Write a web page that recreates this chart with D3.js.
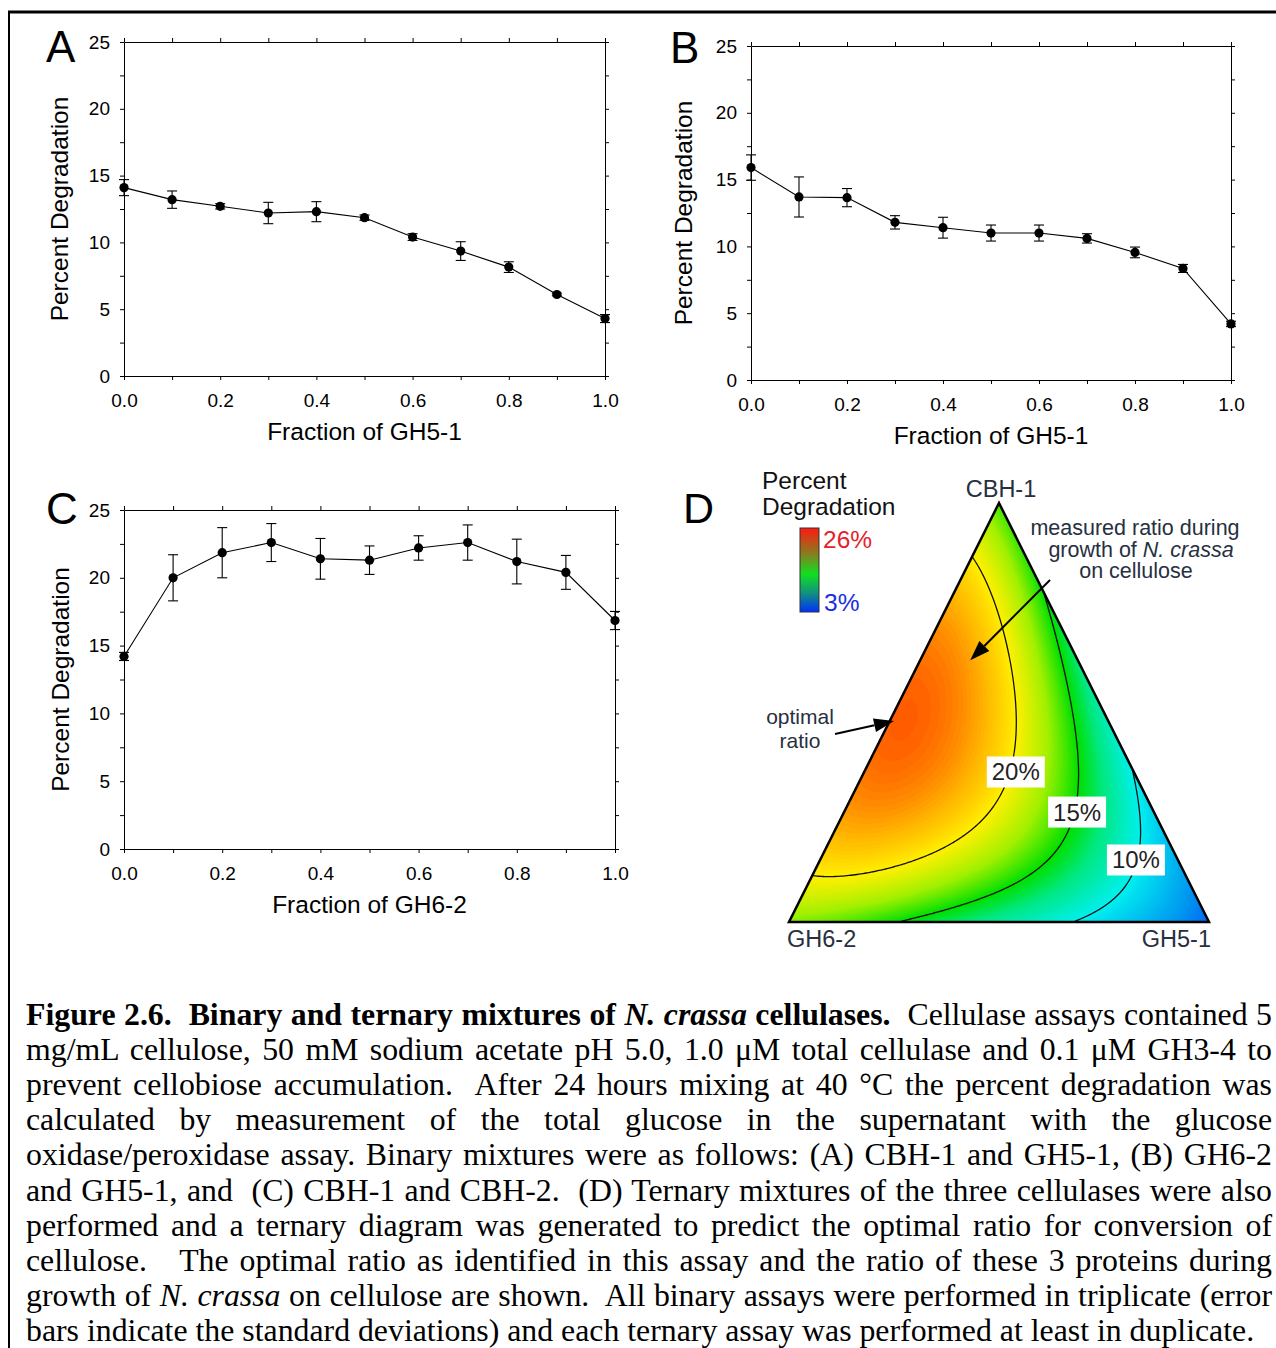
<!DOCTYPE html>
<html><head><meta charset="utf-8">
<script src="https://cdn.jsdelivr.net/npm/d3@7"></script>
<style>
body{margin:0;background:#fff;}
svg{position:absolute;left:0;top:0;}
#cap{position:absolute;left:26px;top:996.5px;width:1246px;font-family:"Liberation Serif","Times New Roman",serif;font-size:31.8px;line-height:35.2px;color:#000;}
#cap div{white-space:nowrap;text-align:left;}
#cap div.just{text-align:justify;text-align-last:justify;}
</style></head><body>
<svg id="fig" width="1276" height="1348"></svg>
<div id="cap"></div>
<script>
// ---------- data ----------
const fractions = [0.0,0.1,0.2,0.3,0.4,0.5,0.6,0.7,0.8,0.9,1.0];
const degA = [14.1,13.2,12.7,12.2,12.3,11.85,10.4,9.35,8.15,6.1,4.3];
const errA = [0.6,0.65,0.2,0.8,0.75,0.2,0.25,0.7,0.4,0.1,0.3];
const degB = [15.9,13.7,13.65,11.8,11.4,11.0,11.0,10.6,9.55,8.35,4.2];
const errB = [0.95,1.5,0.68,0.5,0.78,0.6,0.6,0.35,0.4,0.3,0.2];
const degC = [14.2,20.0,21.85,22.6,21.4,21.3,22.2,22.6,21.2,20.4,16.85];
const errC = [0.3,1.7,1.85,1.4,1.5,1.05,0.9,1.3,1.65,1.25,0.67];
const xTicks = [0,0.1,0.2,0.3,0.4,0.5,0.6,0.7,0.8,0.9,1.0];
const yTicks = [0,2.5,5,7.5,10,12.5,15,17.5,20,22.5,25];
// ternary surface: [CBH-1, GH6-2, GH5-1, percent degradation]
const ternCBH1 = [1,0,0,0.75,0.5,0.25,0.75,0.5,0.25,0,0,0,0.5,0.25,0.25];
const ternGH62 = [0,1,0,0.25,0.5,0.75,0,0,0,0.75,0.5,0.25,0.25,0.5,0.25];
const ternGH51 = [0,0,1,0,0,0,0.25,0.5,0.75,0.25,0.5,0.75,0.25,0.25,0.5];
const ternDeg  = [16.0,17.0,4.5,22.5,24.4,22.6,14.6,11.6,8.6,15.1,12.2,9.0,21.2,21.5,16.4];
const contourLevels = [10,15,20];
const contourLabels = ["10%","15%","20%"];
// label anchor compositions [CBH-1, GH6-2, GH5-1]
const contourLabelPos = [[0.148,0.100,0.752],[0.2625,0.183,0.555],[0.358,0.281,0.361]];
const optimalRatio = [0.48,0.51,0.01];
const measuredRatio = [0.625,0.256,0.119];
const colorDomain = [3,6,10,13,15,17.5,20,22,24,26];
const colorRange = ['#0040ff','#0090f0','#00f0f0','#00e880','#00e000','#a0f000','#fff000','#ffb800','#ff7000','#ff2000'];
const captionLines = [
 '<b>Figure 2.6.&nbsp; Binary and ternary mixtures of <i>N. crassa</i> cellulases.</b>&nbsp; Cellulase assays contained 5',
 'mg/mL cellulose, 50 mM sodium acetate pH 5.0, 1.0 μM total cellulase and 0.1 μM GH3-4 to',
 'prevent cellobiose accumulation.&nbsp; After 24 hours mixing at 40 °C the percent degradation was',
 'calculated by measurement of the total glucose in the supernatant with the glucose',
 'oxidase/peroxidase assay. Binary mixtures were as follows: (A) CBH-1 and GH5-1, (B) GH6-2',
 'and GH5-1, and&nbsp; (C) CBH-1 and CBH-2.&nbsp; (D) Ternary mixtures of the three cellulases were also',
 'performed and a ternary diagram was generated to predict the optimal ratio for conversion of',
 'cellulose.&nbsp;&nbsp; The optimal ratio as identified in this assay and the ratio of these 3 proteins during',
 'growth of <i>N. crassa</i> on cellulose are shown.&nbsp; All binary assays were performed in triplicate (error',
 'bars indicate the standard deviations) and each ternary assay was performed at least in duplicate.'
];

// ---------- setup ----------
const svg = d3.select('#fig');
const SANS = '"Liberation Sans", Arial, sans-serif';
svg.append('line').attr('x1',8).attr('x2',1276).attr('y1',12).attr('y2',12).attr('stroke','#000').attr('stroke-width',3);
svg.append('line').attr('x1',9).attr('x2',9).attr('y1',12).attr('y2',1348).attr('stroke','#000').attr('stroke-width',2);

function panel(cfg){
  const g = svg.append('g');
  const x = d3.scaleLinear().domain([0,1]).range([cfg.x0,cfg.x1]);
  const y = d3.scaleLinear().domain([0,25]).range([cfg.yb,cfg.yt]);
  const fmtX = d => (Math.round(d*10)%2===0) ? d3.format('.1f')(d) : '';
  const fmtY = d => (d%5===0) ? d : '';
  const styleAxis = sel => { sel.selectAll('path,line').attr('stroke','#000').attr('stroke-width',1);
    sel.selectAll('text').attr('font-family',SANS).attr('font-size',19).attr('fill','#000'); };
  g.append('g').attr('transform',`translate(0,${cfg.yb})`).call(d3.axisBottom(x).tickValues(xTicks).tickSize(4).tickSizeOuter(0).tickPadding(14).tickFormat(fmtX)).call(styleAxis);
  g.append('g').attr('transform',`translate(0,${cfg.yt})`).call(d3.axisTop(x).tickValues(xTicks).tickSize(4).tickSizeOuter(0).tickFormat('')).call(styleAxis);
  g.append('g').attr('transform',`translate(${cfg.x0},0)`).call(d3.axisLeft(y).tickValues(yTicks).tickSize(4).tickSizeOuter(0).tickPadding(10).tickFormat(fmtY)).call(styleAxis);
  g.append('g').attr('transform',`translate(${cfg.x1},0)`).call(d3.axisRight(y).tickValues(yTicks).tickSize(4).tickSizeOuter(0).tickFormat('')).call(styleAxis);
  // titles
  g.append('text').attr('x',(cfg.x0+cfg.x1)/2).attr('y',cfg.yb+55).attr('text-anchor','middle').attr('dominant-baseline','central')
   .attr('font-family',SANS).attr('font-size',24.5).text(cfg.xlabel);
  g.append('text').attr('transform',`translate(${cfg.ytx},${(cfg.yb+cfg.yt)/2}) rotate(-90)`).attr('text-anchor','middle').attr('dominant-baseline','central')
   .attr('font-family',SANS).attr('font-size',24.5).text('Percent Degradation');
  g.append('text').attr('x',cfg.lx).attr('y',cfg.ly).attr('font-family',SANS).attr('font-size',44).text(cfg.letter);
  // data
  const pts = fractions.map((f,i)=>({f, v:cfg.vals[i], e:cfg.errs[i]}));
  g.append('path').datum(pts).attr('fill','none').attr('stroke','#000').attr('stroke-width',1.1)
   .attr('d', d3.line().x(d=>x(d.f)).y(d=>y(d.v)));
  const eb = g.append('g').attr('stroke','#000').attr('stroke-width',1.1);
  pts.forEach(d=>{
    eb.append('line').attr('x1',x(d.f)).attr('x2',x(d.f)).attr('y1',y(d.v-d.e)).attr('y2',y(d.v+d.e));
    [d.v-d.e,d.v+d.e].forEach(t=>eb.append('line').attr('x1',x(d.f)-5).attr('x2',x(d.f)+5).attr('y1',y(t)).attr('y2',y(t)));
  });
  g.selectAll('circle.pt').data(pts).join('circle').attr('cx',d=>x(d.f)).attr('cy',d=>y(d.v)).attr('r',4.6).attr('fill','#000');
}
panel({x0:124,x1:605,yb:376,yt:42,vals:degA,errs:errA,xlabel:'Fraction of GH5-1',ytx:59,letter:'A',lx:46,ly:62});
panel({x0:751,x1:1231,yb:380,yt:46,vals:degB,errs:errB,xlabel:'Fraction of GH5-1',ytx:683,letter:'B',lx:670,ly:63});
panel({x0:124,x1:615,yb:849,yt:510,vals:degC,errs:errC,xlabel:'Fraction of GH6-2',ytx:60,letter:'C',lx:46,ly:524});

// ---------- ternary ----------
const T = [999,503], L = [789,922], R = [1209,922];
const proj = c => { const s = c[0]+c[1]+c[2]; return [(c[0]*T[0]+c[1]*L[0]+c[2]*R[0])/s, (c[0]*T[1]+c[1]*L[1]+c[2]*R[1])/s]; };
const det = (L[1]-R[1])*(T[0]-R[0]) + (R[0]-L[0])*(T[1]-R[1]);
function bary(px,py){
  let a = ((L[1]-R[1])*(px-R[0]) + (R[0]-L[0])*(py-R[1]))/det;
  let b = ((R[1]-T[1])*(px-R[0]) + (T[0]-R[0])*(py-R[1]))/det;
  let c = 1-a-b;
  a=Math.max(0,a); b=Math.max(0,b); c=Math.max(0,c); const s=a+b+c; return [a/s,b/s,c/s];
}
// quartic interpolation through lattice values
const mons = []; for(let i=0;i<=4;i++) for(let j=0;j<=4-i;j++) mons.push([i,j]);
function solve(A,yv){
  const n=yv.length, M=A.map((r,i)=>r.concat([yv[i]]));
  for(let k=0;k<n;k++){
    let p=k; for(let i=k+1;i<n;i++) if(Math.abs(M[i][k])>Math.abs(M[p][k])) p=i;
    [M[k],M[p]]=[M[p],M[k]];
    for(let i=k+1;i<n;i++){ const f=M[i][k]/M[k][k]; for(let j=k;j<=n;j++) M[i][j]-=f*M[k][j]; }
  }
  const xs=new Array(n).fill(0);
  for(let i=n-1;i>=0;i--){ let s=M[i][n]; for(let j=i+1;j<n;j++) s-=M[i][j]*xs[j]; xs[i]=s/M[i][i]; }
  return xs;
}
const Amat = ternDeg.map((_,k)=>mons.map(([i,j])=>Math.pow(ternCBH1[k],i)*Math.pow(ternGH62[k],j)));
const coef = solve(Amat, ternDeg);
const surf = (a,b) => mons.reduce((s,[i,j],k)=>s+coef[k]*Math.pow(a,i)*Math.pow(b,j),0);

const step=2, gx0=T[0]-220, gy0=T[1]-10, cols=221, rows=220;
const grid = new Float64Array(cols*rows);
for(let j=0;j<rows;j++) for(let i=0;i<cols;i++){ const c=bary(gx0+i*step, gy0+j*step); grid[j*cols+i]=surf(c[0],c[1]); }
const color = d3.scaleLinear().domain(colorDomain).range(colorRange).clamp(true);
const gpath = d3.geoPath(d3.geoIdentity().scale(step).translate([gx0-0.5*step, gy0-0.5*step]));
const defs = svg.append('defs');
defs.append('clipPath').attr('id','tri').append('path').attr('d',`M${T}L${L}L${R}Z`);
const tg = svg.append('g').attr('clip-path','url(#tri)');
tg.append('path').attr('d',`M${T}L${L}L${R}Z`).attr('fill',color(3));
const bands = d3.range(2,27,0.2);
tg.selectAll('path.band').data(d3.contours().size([cols,rows]).thresholds(bands)(grid)).join('path')
  .attr('d',gpath).attr('fill',d=>color(d.value+0.1)).attr('stroke',d=>color(d.value+0.1)).attr('stroke-width',0.3);
tg.selectAll('path.iso').data(d3.contours().size([cols,rows]).thresholds(contourLevels)(grid)).join('path')
  .attr('d',gpath).attr('fill','none').attr('stroke','#111').attr('stroke-width',1.3);
svg.append('path').attr('d',`M${T}L${L}L${R}Z`).attr('fill','none').attr('stroke','#000').attr('stroke-width',2.5).attr('stroke-linejoin','miter');

contourLabels.forEach((t,i)=>{
  const p = proj(contourLabelPos[i]);
  svg.append('rect').attr('x',p[0]-29).attr('y',p[1]-15.5).attr('width',58).attr('height',31).attr('fill','#fff');
  svg.append('text').attr('x',p[0]).attr('y',p[1]).attr('text-anchor','middle').attr('dominant-baseline','central')
    .attr('font-family',SANS).attr('font-size',24).attr('fill','#222').text(t);
});
const INK = '#27303f';
svg.append('text').attr('x',1001).attr('y',497).attr('text-anchor','middle').attr('font-family',SANS).attr('font-size',23.5).attr('fill',INK).text('CBH-1');
svg.append('text').attr('x',787).attr('y',947).attr('font-family',SANS).attr('font-size',23.5).attr('fill',INK).text('GH6-2');
svg.append('text').attr('x',1211).attr('y',947).attr('text-anchor','end').attr('font-family',SANS).attr('font-size',23.5).attr('fill',INK).text('GH5-1');
svg.append('text').attr('x',683).attr('y',523).attr('font-family',SANS).attr('font-size',43).text('D');
const leg = svg.append('text').attr('font-family',SANS).attr('font-size',24.5).attr('fill','#111');
leg.append('tspan').attr('x',762).attr('y',489).text('Percent');
leg.append('tspan').attr('x',762).attr('y',515).text('Degradation');
const grad = defs.append('linearGradient').attr('id','cb').attr('x1',0).attr('x2',0).attr('y1',0).attr('y2',1);
[['0%','#ff1a10'],['30%','#8a7a20'],['55%','#10e020'],['78%','#109080'],['100%','#0030ff']].forEach(s=>grad.append('stop').attr('offset',s[0]).attr('stop-color',s[1]));
svg.append('rect').attr('x',800).attr('y',528).attr('width',19).attr('height',84).attr('fill','url(#cb)').attr('stroke','#333').attr('stroke-width',1);
svg.append('text').attr('x',823).attr('y',548).attr('font-family',SANS).attr('font-size',24.5).attr('fill','#e8202a').text('26%');
svg.append('text').attr('x',824).attr('y',611).attr('font-family',SANS).attr('font-size',24.5).attr('fill','#1a2ee0').text('3%');

function arrow(x1,y1,x2,y2){
  const ang=Math.atan2(y2-y1,x2-x1), len=20, w=7;
  const bx=x2-len*Math.cos(ang), by=y2-len*Math.sin(ang);
  svg.append('line').attr('x1',x1).attr('y1',y1).attr('x2',bx).attr('y2',by).attr('stroke','#000').attr('stroke-width',2);
  svg.append('path').attr('d',`M${x2},${y2}L${bx-w*Math.sin(ang)},${by+w*Math.cos(ang)}L${bx+w*Math.sin(ang)},${by-w*Math.cos(ang)}Z`).attr('fill','#000');
}
const op = proj(optimalRatio), mp = proj(measuredRatio);
arrow(835,734,op[0],op[1]);
arrow(1050,580,mp[0],mp[1]);
const ann = svg.append('g').attr('font-family',SANS).attr('font-size',21.5).attr('fill',INK).attr('text-anchor','middle');
const o = ann.append('text').attr('font-size',21);
o.append('tspan').attr('x',800).attr('y',724).text('optimal');
o.append('tspan').attr('x',800).attr('y',747.5).text('ratio');
const m = ann.append('text');
m.append('tspan').attr('x',1135).attr('y',535).text('measured ratio during');
m.append('tspan').attr('x',1141).attr('y',557).text('growth of ');
m.append('tspan').attr('font-style','italic').text('N. crassa');
m.append('tspan').attr('x',1136).attr('y',578).text('on cellulose');

// ---------- caption ----------
const capW = 1246;
const lines = d3.select('#cap').selectAll('div').data(captionLines).join('div');
lines.each(function(d,i){
  const div = d3.select(this);
  const span = div.append('span').html(d);
  const w = span.node().getBoundingClientRect().width;
  if (w > capW) {
    const nSp = (span.text().match(/\s/g)||[]).length || 1;
    span.style('word-spacing', ((capW - w)/nSp - 0.2) + 'px');
  }
  if (i < captionLines.length-1) div.classed('just', true);
});
</script>
</body></html>
